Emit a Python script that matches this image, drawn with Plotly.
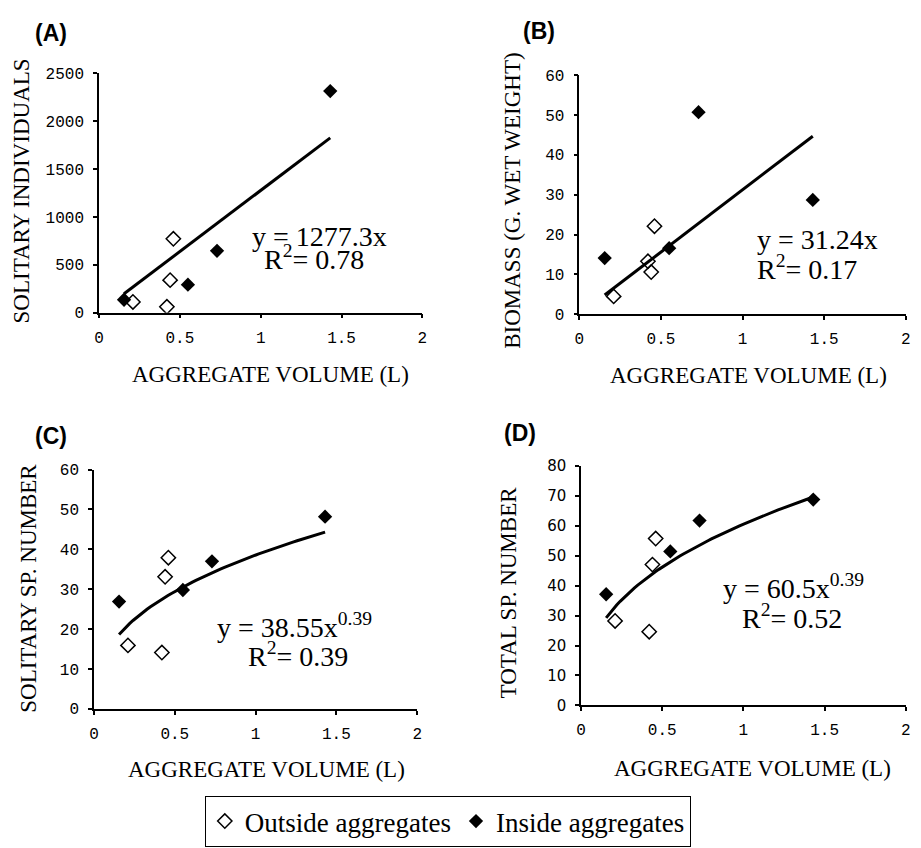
import plotly.graph_objects as go

W, H = 921, 848

# ---- data ----
x_inside = [0.155, 0.55, 0.73, 1.43]
x_outside = [0.21, 0.42, 0.44, 0.46]

a_inside = [135, 292, 646, 2316]
a_outside = [112, 61, 340, 772]
b_inside = [14.1, 16.6, 50.7, 28.7]
b_outside = [4.5, 13.3, 10.6, 22.1]
c_inside = [26.9, 29.8, 37.0, 48.2]
c_outside = [15.9, 14.1, 33.1, 37.9]
d_inside = [37.1, 51.4, 61.7, 68.7]
d_outside = [28.2, 24.6, 47.0, 55.7]

# trendline coefficients (y = a * x^b), as printed on the chart
fit_a = [1277.3, 31.24, 38.55, 60.5]
fit_b = [1.0, 1.0, 0.39, 0.39]

panel_labels = ["(A)", "(B)", "(C)", "(D)"]
y_titles = ["SOLITARY INDIVIDUALS", "BIOMASS (G. WET WEIGHT)",
            "SOLITARY SP. NUMBER", "TOTAL SP. NUMBER"]
x_title = "AGGREGATE VOLUME (L)"
eq_lines = [("y = 1277.3x", "R<sup>2</sup>= 0.78"),
            ("y = 31.24x", "R<sup>2</sup>= 0.17"),
            ("y = 38.55x<sup>0.39</sup>", "R<sup>2</sup>= 0.39"),
            ("y = 60.5x<sup>0.39</sup>", "R<sup>2</sup>= 0.52")]
y_ranges = [[0, 2500], [0, 60], [0, 60], [0, 80]]
y_dticks = [500, 10, 10, 10]
legend_names = ["Outside aggregates", "Inside aggregates"]

inside_sets = [a_inside, b_inside, c_inside, d_inside]
outside_sets = [a_outside, b_outside, c_outside, d_outside]

# ---- layout geometry (pixels) ----
# (left, right, top, bottom) of each plot area
boxes = [(95, 422, 66, 311), (580.7, 910.7, 67.7, 312.7),
         (90, 416.7, 471.7, 716.7), (582.3, 910.7, 467.7, 713.3)]
label_pos = [(47, 25), (540, 23), (46, 437), (521, 434)]
ytitle_pos = [(17, 186), (513, 196), (23, 593), (509, 597)]
xtitle_pos = [(268, 374), (752, 375), (264, 779), (756, 778)]
eq_pos = [((318, 233), (312, 255)), ((758, 236), (758, 265)),
          ((293, 631), (296, 661)), ((797, 591), (796, 622))]
eq_anchor = [("center", "center"), ("left", "left"),
             ("center", "center"), ("center", "center")]


def px(x):
    return x / W


def py(y):
    return 1 - y / H


fig = go.Figure()

for i in range(4):
    xa = "x" if i == 0 else f"x{i+1}"
    ya = "y" if i == 0 else f"y{i+1}"
    fig.add_trace(go.Scatter(
        x=x_outside, y=outside_sets[i], mode="markers", xaxis=xa, yaxis=ya,
        name=legend_names[0], legendgroup="out", showlegend=(i == 0),
        marker=dict(symbol="diamond-open", size=11, color="black",
                    line=dict(width=1.5, color="black")),
        hoverinfo="x+y"))
    fig.add_trace(go.Scatter(
        x=x_inside, y=inside_sets[i], mode="markers", xaxis=xa, yaxis=ya,
        name=legend_names[1], legendgroup="in", showlegend=(i == 0),
        marker=dict(symbol="diamond", size=11, color="black"),
        hoverinfo="x+y"))
    xs_all = x_inside + x_outside
    lo, hi = min(xs_all), max(xs_all)
    n = 60
    tx = [lo + (hi - lo) * k / (n - 1) for k in range(n)]
    ty = [fit_a[i] * (t ** fit_b[i]) for t in tx]
    fig.add_trace(go.Scatter(
        x=tx, y=ty, mode="lines", xaxis=xa, yaxis=ya, showlegend=False,
        line=dict(color="black", width=3), hoverinfo="skip"))

serif = "Liberation Serif"
tickfont = dict(family="Liberation Mono", size=16, color="black")
layout = dict(
    width=W, height=H, margin=dict(l=0, r=0, t=0, b=0),
    paper_bgcolor="white", plot_bgcolor="white",
    showlegend=True,
    legend=dict(orientation="h", x=px(202), xanchor="left", y=py(806),
                yanchor="top", bordercolor="black", borderwidth=1,
                font=dict(family=serif, size=27, color="black"),
                bgcolor="white", itemwidth=30),
)

annotations = []
for i in range(4):
    l, r, t, b = boxes[i]
    xk = "xaxis" if i == 0 else f"xaxis{i+1}"
    yk = "yaxis" if i == 0 else f"yaxis{i+1}"
    ya = "y" if i == 0 else f"y{i+1}"
    xa = "x" if i == 0 else f"x{i+1}"
    layout[xk] = dict(domain=[px(l), px(r)], range=[0, 2], dtick=0.5,
                      tick0=0, anchor=ya, showline=True, linecolor="black",
                      linewidth=1.5, ticks="outside", ticklen=4,
                      tickcolor="black", tickwidth=1.5, showgrid=False,
                      zeroline=False, tickfont=tickfont,
                      ticklabelstandoff=5, fixedrange=True)
    ytf = tickfont if i != 3 else dict(family="DejaVu Sans", size=15,
                                       color="black")
    layout[yk] = dict(domain=[py(b), py(t)], range=y_ranges[i],
                      dtick=y_dticks[i], tick0=0, anchor=xa, showline=True,
                      linecolor="black", linewidth=1.5, ticks="outside",
                      ticklen=4, tickcolor="black", tickwidth=1.5,
                      showgrid=False, zeroline=False, tickfont=ytf,
                      ticklabelstandoff=6, fixedrange=True)
    # panel label
    lx, ly = label_pos[i]
    annotations.append(dict(text=f"<b>{panel_labels[i]}</b>", x=px(lx),
                            y=py(ly), xref="paper", yref="paper",
                            showarrow=False, xanchor="center",
                            yanchor="middle",
                            font=dict(family="Liberation Sans", size=23,
                                      color="black")))
    tx_, ty_ = ytitle_pos[i]
    annotations.append(dict(text=y_titles[i], x=px(tx_), y=py(ty_),
                            xref="paper", yref="paper", showarrow=False,
                            textangle=-90, xanchor="center",
                            yanchor="middle",
                            font=dict(family=serif, size=23, color="black")))
    tx_, ty_ = xtitle_pos[i]
    annotations.append(dict(text=x_title, x=px(tx_), y=py(ty_),
                            xref="paper", yref="paper", showarrow=False,
                            xanchor="center", yanchor="middle",
                            font=dict(family=serif, size=23, color="black")))
    for j in range(2):
        ex, ey = eq_pos[i][j]
        annotations.append(dict(text=eq_lines[i][j], x=px(ex), y=py(ey),
                                xref="paper", yref="paper", showarrow=False,
                                xanchor=eq_anchor[i][j], yanchor="middle",
                                font=dict(family=serif, size=28,
                                          color="black")))

layout["annotations"] = annotations
fig.update_layout(**layout)
fig.write_html(
    "out.html",
    config={"displayModeBar": False},
    post_script="document.body.style.margin='0';"
                "document.body.style.overflow='hidden';")
